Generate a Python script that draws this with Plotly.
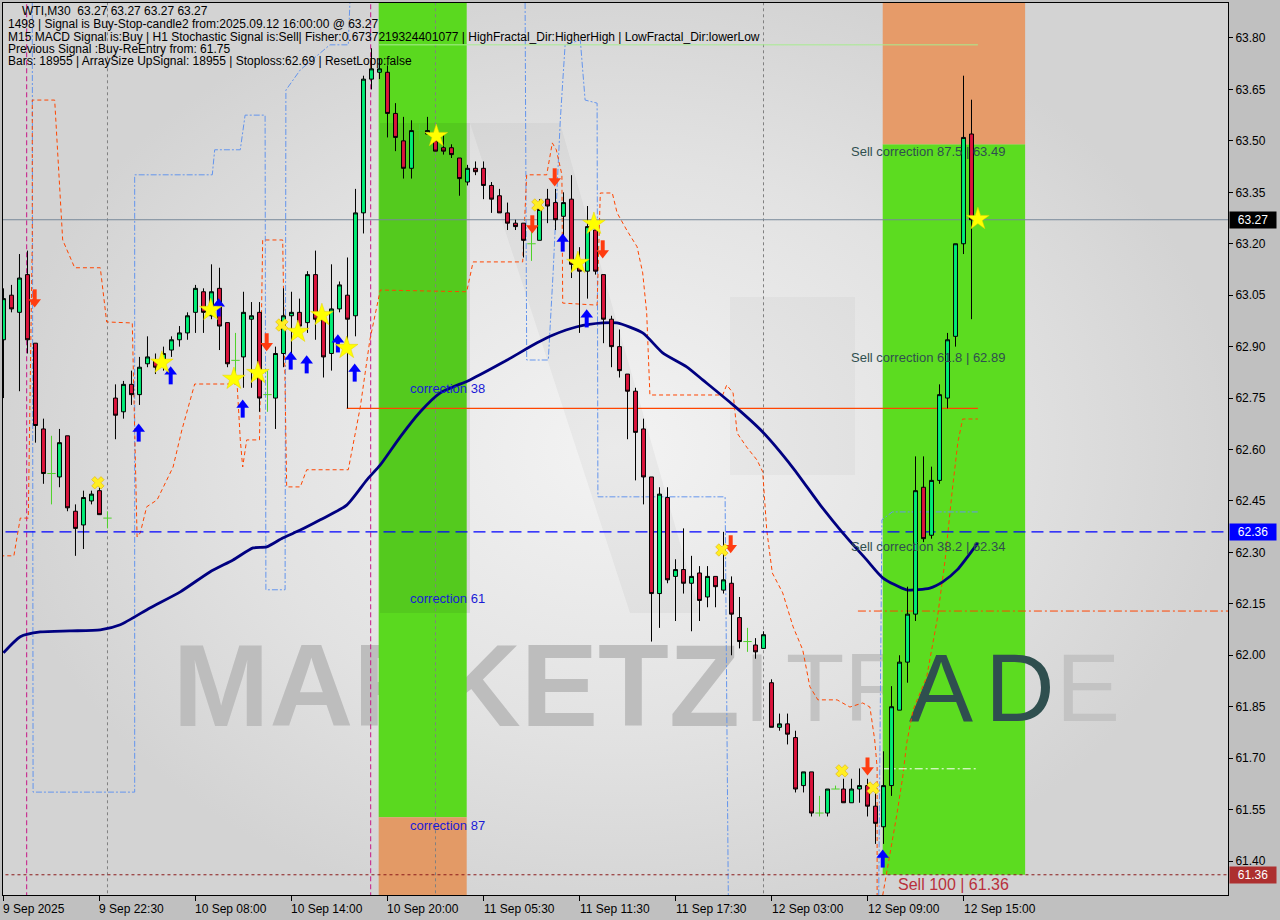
import plotly.graph_objects as go

# ---------------- data ----------------
opens = [62.92, 63.05, 63.00, 63.11, 62.91, 62.66, 62.53, 62.52, 62.64, 62.42,
         62.38, 62.45, 62.48, 62.40, 62.75, 62.71, 62.79, 62.76, 62.85, 62.86,
         62.86, 62.89, 62.92, 62.94, 63.00, 63.06, 62.99, 63.07, 62.97, 62.86,
         62.87, 62.98, 63.00, 62.76, 62.75, 62.88, 62.99, 63.00, 62.97, 63.11,
         63.00, 62.88, 63.01, 63.05, 62.99, 63.29, 63.68, 63.70, 63.70, 63.58,
         63.50, 63.42, 63.53, 63.52, 63.50, 63.48, 63.48, 63.45, 63.38, 63.42,
         63.42, 63.37, 63.34, 63.29, 63.26, 63.26, 63.20, 63.21, 63.33, 63.32,
         63.28, 63.33, 63.13, 63.12, 63.24, 63.11, 62.98, 62.90, 62.82, 62.77,
         62.66, 62.52, 62.18, 62.46, 62.23, 62.25, 62.21, 62.24, 62.17, 62.23,
         62.19, 62.21, 62.11, 62.04, 62.03, 62.02, 61.92, 61.79, 61.80, 61.76,
         61.62, 61.66, 61.54, 61.54, 61.61, 61.61, 61.57, 61.61, 61.62, 61.56,
         61.50, 61.62, 61.84, 61.98, 62.12, 62.49, 62.35, 62.51, 62.75, 62.93,
         63.20, 63.52]
highs = [63.07, 63.08, 63.17, 63.18, 62.91, 62.69, 62.64, 62.66, 62.64, 62.44,
         62.48, 62.48, 62.49, 62.42, 62.79, 62.80, 62.83, 62.87, 62.93, 62.88,
         62.90, 62.93, 62.96, 63.00, 63.08, 63.07, 63.14, 63.13, 62.97, 62.94,
         63.06, 63.03, 63.03, 62.83, 62.90, 63.07, 63.06, 63.04, 63.12, 63.18,
         63.00, 63.14, 63.09, 63.16, 63.36, 63.69, 63.77, 63.74, 63.72, 63.61,
         63.57, 63.56, 63.55, 63.57, 63.53, 63.52, 63.49, 63.45, 63.43, 63.44,
         63.44, 63.38, 63.36, 63.32, 63.27, 63.26, 63.24, 63.33, 63.36, 63.36,
         63.35, 63.40, 63.19, 63.31, 63.25, 63.11, 62.99, 62.95, 62.82, 62.78,
         62.69, 62.52, 62.49, 62.49, 62.28, 62.37, 62.29, 62.26, 62.26, 62.23,
         62.36, 62.23, 62.17, 62.08, 62.05, 62.07, 61.93, 61.83, 61.83, 61.78,
         61.66, 61.66, 61.59, 61.61, 61.62, 61.64, 61.64, 61.67, 61.64, 61.60,
         61.72, 61.91, 62.00, 62.20, 62.58, 62.58, 62.55, 62.79, 62.94, 63.20,
         63.69, 63.62]
lows = [62.75, 63.00, 62.77, 62.88, 62.62, 62.50, 62.44, 62.49, 62.42, 62.29,
        62.31, 62.44, 62.41, 62.37, 62.63, 62.69, 62.73, 62.73, 62.84, 62.82,
        62.83, 62.87, 62.90, 62.92, 62.94, 62.94, 62.98, 62.89, 62.84, 62.79,
        62.78, 62.78, 62.71, 62.71, 62.66, 62.84, 62.84, 62.94, 62.94, 62.92,
        62.81, 62.83, 63.00, 62.72, 62.93, 63.23, 63.65, 63.68, 63.51, 63.47,
        63.39, 63.39, 63.50, 63.52, 63.47, 63.46, 63.45, 63.34, 63.37, 63.40,
        63.33, 63.29, 63.29, 63.24, 63.24, 63.16, 63.15, 63.21, 63.26, 63.24,
        63.19, 63.10, 62.94, 63.04, 63.11, 62.91, 62.84, 62.81, 62.63, 62.51,
        62.44, 62.04, 62.08, 62.21, 62.10, 62.18, 62.07, 62.10, 62.14, 62.14,
        62.18, 62.00, 62.02, 62.01, 61.99, 62.02, 61.79, 61.78, 61.74, 61.60,
        61.60, 61.53, 61.53, 61.53, 61.61, 61.57, 61.57, 61.57, 61.53, 61.45,
        61.45, 61.59, 61.84, 61.92, 62.10, 62.33, 62.34, 62.50, 62.72, 62.90,
        63.17, 62.98]
closes = [63.04, 63.01, 63.10, 62.92, 62.67, 62.53, 62.53, 62.62, 62.43, 62.37,
          62.46, 62.47, 62.41, 62.40, 62.70, 62.79, 62.76, 62.84, 62.87, 62.84,
          62.88, 62.92, 62.94, 62.99, 63.07, 63.00, 63.06, 62.96, 62.85, 62.86,
          63.00, 62.99, 62.75, 62.76, 62.88, 62.99, 63.00, 62.96, 63.11, 62.98,
          62.87, 63.01, 63.08, 62.98, 63.29, 63.68, 63.71, 63.71, 63.58, 63.51,
          63.42, 63.53, 63.53, 63.53, 63.47, 63.47, 63.46, 63.39, 63.42, 63.41,
          63.37, 63.33, 63.29, 63.26, 63.25, 63.21, 63.20, 63.30, 63.31, 63.27,
          63.32, 63.14, 63.12, 63.25, 63.12, 62.98, 62.90, 62.83, 62.77, 62.65,
          62.52, 62.18, 62.47, 62.22, 62.25, 62.21, 62.23, 62.16, 62.23, 62.20,
          62.22, 62.12, 62.04, 62.04, 62.01, 62.06, 61.79, 61.80, 61.77, 61.61,
          61.66, 61.54, 61.54, 61.61, 61.61, 61.57, 61.61, 61.62, 61.56, 61.51,
          61.62, 61.85, 61.98, 62.12, 62.48, 62.34, 62.51, 62.76, 62.92, 63.20,
          63.51, 63.27]

time_labels = ["9 Sep 2025", "9 Sep 22:30", "10 Sep 08:00", "10 Sep 14:00", "10 Sep 20:00",
               "11 Sep 05:30", "11 Sep 11:30", "11 Sep 17:30", "12 Sep 03:00",
               "12 Sep 09:00", "12 Sep 15:00"]
time_label_bars = [0, 12, 24, 36, 48, 60, 72, 84, 96, 108, 120]
price_ticks = [61.40, 61.55, 61.70, 61.85, 62.00, 62.15, 62.30, 62.45, 62.60,
               62.75, 62.90, 63.05, 63.20, 63.35, 63.50, 63.65, 63.80]

# moving average (knots): bar position, price
ma_x = [0, 2.1, 4.6, 8.3, 12.1, 14.6, 18.3, 22.1, 25.8, 28.7, 31.2, 32.9, 34.9, 37.1,
        39.6, 42.9, 45.4, 47.1, 49.6, 52.1, 54.6, 58.3, 62.5, 66.7, 68.7, 71.7, 74.9,
        76.7, 79.9, 82.4, 85.4, 87.4, 91.2, 94.9, 98.7, 102.1, 104.9, 107.9, 109.9,
        112.9, 115.8, 117.4, 119.2, 121.8]
ma_y = [62.007, 62.054, 62.068, 62.071, 62.074, 62.089, 62.138, 62.185, 62.243, 62.278,
        62.313, 62.316, 62.342, 62.365, 62.395, 62.438, 62.511, 62.555, 62.637, 62.710,
        62.765, 62.803, 62.855, 62.911, 62.934, 62.958, 62.969, 62.969, 62.940, 62.882,
        62.841, 62.803, 62.730, 62.651, 62.546, 62.438, 62.357, 62.278, 62.226, 62.191,
        62.196, 62.214, 62.249, 62.328]

# orange step envelope (dashed)
env_o_x = [-0.4, 1.3, 2.1, 3.1, 3.6, 3.6, 6.4, 7.4, 8.9, 12.1, 12.9, 16.1, 16.7, 17.1, 17.9,
           19.2, 21.2, 22.3, 23.9, 29.2, 29.6, 29.9, 30.4, 32.0, 32.4, 34.9, 35.4, 37.1, 37.9,
           43.1, 44.6, 45.8, 47.1, 57.9, 58.7, 64.9, 65.4, 67.9, 68.6, 69.1, 69.8, 69.9,
           74.2, 74.6, 76.1, 76.7, 77.9, 79.2, 79.9, 80.4, 80.8, 89.9, 90.4, 91.2, 91.7,
           92.9, 94.2, 94.9, 95.4, 96.1, 97.4, 98.7, 99.9, 100.8, 101.8, 104.2, 105.8, 107.4,
           108.3, 108.9, 109.2, 109.2, None,
           109.9, 111.1, 111.7, 112.4, 112.9, 113.7, 115.4, 116.7, 117.7, 118.6, 119.3,
           119.9, 121.8]
env_o_y = [62.290, 62.290, 62.400, 62.400, 63.211, 63.619, 63.619, 63.211, 63.130, 63.130,
           62.972, 62.969, 62.345, 62.357, 62.433, 62.453, 62.549, 62.657, 62.791, 62.791,
           62.628, 62.549, 62.628, 62.628, 63.211, 63.211, 62.491, 62.491, 62.541, 62.541,
           62.724, 62.920, 63.065, 63.060, 63.147, 63.147, 63.401, 63.401, 63.494, 63.474,
           63.401, 63.027, 63.021, 63.348, 63.348, 63.290, 63.240, 63.191, 63.115, 62.998,
           62.759, 62.759, 62.788, 62.765, 62.648, 62.607, 62.569, 62.535, 62.366, 62.240,
           62.182, 62.083, 62.016, 61.908, 61.870, 61.870, 61.849, 61.861, 61.849, 61.753,
           61.674, 61.300, None,
           61.300, 61.453, 61.540, 61.645, 61.744, 61.841, 61.937, 62.103, 62.278, 62.482,
           62.622, 62.689, 62.689]

# blue step channel (dash-dot)
env_b_x = [3.6, 3.7, 15.8, 16.4, 16.4, 26.1, 26.4, 29.6, 30.2, 32.7, 32.8, 35.2, 35.3, 37.1,
           40.8, 43.1, 43.3, None,
           65.2, 65.4, 68.1, 68.7, 69.6, 70.2, 72.1, 72.7, 74.2, 74.3, 90.2, 90.6, None,
           109.4, 109.8, 111.1, 121.8]
env_b_y = [63.902, 61.601, 61.601, 61.601, 63.401, 63.401, 63.474, 63.474, 63.575, 63.575,
           62.191, 62.191, 63.648, 63.707, 63.780, 63.780, 63.902, None,
           63.902, 62.861, 62.861, 63.115, 63.561, 63.780, 63.794, 63.619, 63.610, 62.462,
           62.462, 61.300, None,
           61.300, 62.395, 62.418, 62.418]

# signal markers
star_x = [19.8, 25.9, 28.8, 31.8, 36.8, 39.8, 42.9, 54.1, 71.8, 73.8, 121.8]
star_y = [62.853, 63.007, 62.806, 62.823, 62.943, 62.992, 62.896, 63.514, 63.144, 63.258, 63.272]
cross_x = [11.8, 34.8, 66.8, 89.8, 104.8, 108.7]
cross_y = [62.503, 62.963, 63.313, 62.307, 61.663, 61.613]
up_x = [16.9, 20.9, 26.9, 29.9, 35.9, 37.9, 41.8, 43.9, 69.9, 72.9, 109.9]
up_y = [62.651, 62.818, 63.016, 62.721, 62.861, 62.850, 62.911, 62.826, 63.205, 62.984, 61.409]
down_x = [3.9, 32.9, 66.1, 68.9, 74.9, 90.9, 108.0]
down_y = [63.039, 62.911, 63.255, 63.392, 63.182, 62.322, 61.674]

# levels
last_price = 63.27
buy_level = 62.36
sell100_level = 61.36
stop_level = 62.72
stop_from_bar, stop_to_bar = 42.9, 121.8
dashdot_level = 62.129
prev_level = 63.78
white_level = 61.669

zone1 = dict(x0=46.9, x1=57.9, green_lo=61.528, green_hi=63.95, orange_lo=61.25)
zone2 = dict(x0=109.9, x1=127.7, green_lo=61.36, green_hi=63.49, orange_hi=63.95)

day_sep_bars = [13, 54, 95]
magenta_bars = [2.9, 45.9]

info_lines = [
    "WTI,M30  63.27 63.27 63.27 63.27",
    "1498 | Signal is Buy-Stop-candle2 from:2025.09.12 16:00:00 @ 63.27",
    "M15 MACD Signal is:Buy | H1 Stochastic Signal is:Sell| Fisher:0.6737219324401077 | HighFractal_Dir:HigherHigh | LowFractal_Dir:lowerLow",
    "Previous Signal :Buy-ReEntry from: 61.75",
    "Bars: 18955 | ArraySize UpSignal: 18955 | Stoploss:62.69 | ResetLopp:false",
]

# ---------------- layout geometry ----------------
W, H = 1280, 920
ML, MR, MT, MB = 3, 52, 3, 25
X_RANGE = [-0.06, 153.06]
Y_RANGE = [61.301, 63.902]
FONT = "Liberation Sans"
PX = (Y_RANGE[1] - Y_RANGE[0]) / (H - MT - MB)   # price units per pixel


def dx_(px):   # decorative pixel x -> axis x
    return X_RANGE[0] + (px - ML) * (X_RANGE[1] - X_RANGE[0]) / (W - ML - MR)


def dy_(py):   # decorative pixel y -> axis y
    return Y_RANGE[1] - (py - MT) * PX


fig = go.Figure()

# background radial gradient (base layer)
fig.add_trace(go.Scatter(
    x=[X_RANGE[0] - 1, X_RANGE[1] + 1, X_RANGE[1] + 1, X_RANGE[0] - 1, X_RANGE[0] - 1],
    y=[Y_RANGE[0] - 0.1, Y_RANGE[0] - 0.1, Y_RANGE[1] + 0.1, Y_RANGE[1] + 0.1, Y_RANGE[0] - 0.1],
    fill="toself", mode="none", hoverinfo="skip", showlegend=False,
    fillgradient=dict(type="radial", colorscale=[[0, "#f3f3f3"], [0.6, "#e2e2e2"], [1, "#d3d3d3"]]),
))

# watermark (gray parts, behind zones)
wm_y = 61.878
fig.add_trace(go.Scatter(x=[56.6], y=[wm_y], mode="text", text=["MARKETZ"], hoverinfo="skip",
                         showlegend=False,
                         textfont=dict(family=FONT, size=116, color="#bdbdbd", weight="bold")))
fig.add_trace(go.Scatter(x=[94.2, dx_(815), dx_(879), dx_(1088)], y=[wm_y] * 4, mode="text",
                         text=["I", "T", "R", "E"], hoverinfo="skip", showlegend=False,
                         textfont=dict(family=FONT, size=96, color="#c3c3c3")))


def rect(x0, x1, y0, y1, color):
    fig.add_trace(go.Scatter(x=[x0, x1, x1, x0, x0], y=[y0, y0, y1, y1, y0], fill="toself",
                             mode="none", fillcolor=color, hoverinfo="skip", showlegend=False))


rect(zone1["x0"], zone1["x1"], zone1["green_lo"], zone1["green_hi"], "#5ad91f")
rect(zone1["x0"], zone1["x1"], zone1["orange_lo"], zone1["green_lo"], "#e39a66")
rect(zone2["x0"], zone2["x1"], zone2["green_lo"], zone2["green_hi"], "#5cdc20")
rect(zone2["x0"], zone2["x1"], zone2["green_hi"], zone2["orange_hi"], "#e69b69")

# faint logo shapes of the watermark
logo_polys = [
    ([(380, 123), (470, 123), (470, 613), (380, 613)], "rgba(30,30,30,0.08)"),
    ([(470, 123), (560, 123), (700, 613), (630, 613)], "rgba(30,30,30,0.04)"),
    ([(730, 297), (855, 297), (855, 475), (730, 475)], "rgba(30,30,30,0.03)"),
]
for pts, col in logo_polys:
    xs = [dx_(p[0]) for p in pts] + [dx_(pts[0][0])]
    ys = [dy_(p[1]) for p in pts] + [dy_(pts[0][1])]
    fig.add_trace(go.Scatter(x=xs, y=ys, fill="toself", mode="none", fillcolor=col,
                             hoverinfo="skip", showlegend=False))

# watermark dark letters inside zone 2
fig.add_trace(go.Scatter(x=[dx_(941), dx_(1020)], y=[wm_y] * 2, mode="text", text=["A", "D"],
                         hoverinfo="skip", showlegend=False,
                         textfont=dict(family=FONT, size=96, color="#2f4f4f")))


def vline(b, color, dash):
    fig.add_trace(go.Scatter(x=[b, b], y=[Y_RANGE[0] - 0.1, Y_RANGE[1] + 0.1], mode="lines",
                             hoverinfo="skip", showlegend=False,
                             line=dict(color=color, width=1, dash=dash)))


def hline(y, x0, x1, color, dash, width=1):
    fig.add_trace(go.Scatter(x=[x0, x1], y=[y, y], mode="lines", hoverinfo="skip",
                             showlegend=False, line=dict(color=color, width=width, dash=dash)))


for b in day_sep_bars:
    vline(b, "#808080", "3px,3px")
for b in magenta_bars:
    vline(b, "#c71585", "5px,3px")

# indicator lines
fig.add_trace(go.Scatter(x=env_b_x, y=env_b_y, mode="lines", hoverinfo="skip", showlegend=False,
                         line=dict(color="#6495ed", width=1, dash="6px,2px,2px,2px")))
fig.add_trace(go.Scatter(x=env_o_x, y=env_o_y, mode="lines", hoverinfo="skip", showlegend=False,
                         line=dict(color="#ff4500", width=1, dash="4px,3px")))
hline(prev_level, 46.9, 121.8, "#a8ec90", "solid")
hline(stop_level, stop_from_bar, stop_to_bar, "#ff4500", "solid", 1.3)
hline(dashdot_level, 106.8, 160, "#ff4500", "8px,3px,2px,3px")
hline(white_level, 109.9, 121.7, "#ffffff", "8px,3px,2px,3px")
hline(last_price, -2, 160, "#778899", "solid")
hline(buy_level, -2, 160, "#0000ff", "12px,6px", 1.2)
hline(sell100_level, -2, 160, "#8b1a1a", "3px,3px")

# moving average
fig.add_trace(go.Scatter(x=ma_x, y=ma_y, mode="lines", hoverinfo="skip", showlegend=False,
                         line=dict(color="#000080", width=2.8, shape="spline", smoothing=0.6)))

# ---------------- overlay layer: candles and signals ----------------
bars = list(range(len(opens)))
cx = [b for b in bars if opens[b] != closes[b]]
fig.add_trace(go.Candlestick(
    x=cx, open=[opens[b] for b in cx], high=[highs[b] for b in cx],
    low=[lows[b] for b in cx], close=[closes[b] for b in cx],
    increasing=dict(line=dict(color="#000000", width=1), fillcolor="#00ee76"),
    decreasing=dict(line=dict(color="#000000", width=1), fillcolor="#dc143c"),
    whiskerwidth=0, hoverinfo="skip", showlegend=False, xaxis="x2", yaxis="y2"))
dojis = [b for b in bars if opens[b] == closes[b]]
wick_x, wick_y = [], []
for b in dojis:
    wick_x += [b, b, None]
    wick_y += [lows[b], highs[b], None]
fig.add_trace(go.Scatter(x=wick_x, y=wick_y, mode="lines", line=dict(color="#4fd12a", width=1),
                         hoverinfo="skip", showlegend=False, xaxis="x2", yaxis="y2"))
fig.add_trace(go.Scatter(x=dojis, y=[opens[b] for b in dojis], mode="markers", hoverinfo="skip",
                         showlegend=False, xaxis="x2", yaxis="y2",
                         marker=dict(symbol="line-ew", size=6, line=dict(color="#4fd12a", width=1))))


# arrows: stem + head
def arrows(xs, ys, up, color):
    sgn = 1 if up else -1
    fig.add_trace(go.Scatter(x=xs, y=[v - sgn * 4 * PX for v in ys], mode="markers",
                             hoverinfo="skip", showlegend=False, xaxis="x2", yaxis="y2",
                             marker=dict(symbol="line-ns", size=8, line=dict(color=color, width=4))))
    fig.add_trace(go.Scatter(x=xs, y=[v + sgn * 3 * PX for v in ys], mode="markers",
                             hoverinfo="skip", showlegend=False, xaxis="x2", yaxis="y2",
                             marker=dict(symbol="triangle-up" if up else "triangle-down", size=11,
                                         color=color, line=dict(width=0))))


arrows(up_x, up_y, True, "#0000ff")
arrows(down_x, down_y, False, "#ff3c10")
fig.add_trace(go.Scatter(x=star_x, y=star_y, mode="markers", hoverinfo="skip", showlegend=False,
                         xaxis="x2", yaxis="y2",
                         marker=dict(symbol="star", size=17, color="#ffff00",
                                     line=dict(color="#e6d200", width=0.5))))
fig.add_trace(go.Scatter(x=cross_x, y=cross_y, mode="markers", hoverinfo="skip", showlegend=False,
                         xaxis="x2", yaxis="y2",
                         marker=dict(symbol="x", size=11, color="#ffee22",
                                     line=dict(color="#e0b000", width=0.6))))

# zone labels
for txt, y in [("correction 38", 62.777), ("correction 61", 62.167), ("correction 87", 61.505)]:
    fig.add_annotation(x=50.56, y=y, text=txt, showarrow=False, xanchor="left",
                       font=dict(family=FONT, size=13, color="#1a1ad6"))
for txt, y in [("Sell correction 87.5 | 63.49", 63.468), ("Sell correction 61.8 | 62.89", 62.867),
               ("Sell correction 38.2 | 62.34", 62.316)]:
    fig.add_annotation(x=105.7, y=y, text=txt, showarrow=False, xanchor="left",
                       font=dict(family=FONT, size=13, color="#2f4f4f"))
fig.add_annotation(x=111.6, y=61.333, text="Sell 100 | 61.36", showarrow=False, xanchor="left",
                   font=dict(family=FONT, size=16, color="#b8303c"))

# info text top-left
line_px = [11, 24, 37, 49, 61]
for i, (txt, py) in enumerate(zip(info_lines, line_px)):
    xpx = 20 if i == 0 else 6
    fig.add_annotation(x=(xpx - ML) / (W - ML - MR), y=1 - (py - MT) / (H - MT - MB),
                       xref="paper", yref="paper", text=txt, showarrow=False,
                       xanchor="left", yanchor="middle",
                       font=dict(family=FONT, size=12, color="#000000"))

# time labels
for b, t in zip(time_label_bars, time_labels):
    fig.add_annotation(x=b, y=0, xref="x", yref="paper", text=t, showarrow=False,
                       xanchor="left", yanchor="top", yshift=-5, xshift=-2,
                       font=dict(family=FONT, size=12, color="#000000"))

# price badges
for val, col in [(last_price, "#000000"), (buy_level, "#0000ff"), (sell100_level, "#ad2f2f")]:
    fig.add_annotation(x=1, y=val, xref="paper", yref="y", text=f"{val:.2f}", showarrow=False,
                       xanchor="left", xshift=1, bgcolor=col, width=44, height=14,
                       font=dict(family=FONT, size=12, color="#ffffff"))

fig.update_layout(
    width=W, height=H, margin=dict(l=ML, r=MR, t=MT, b=MB),
    paper_bgcolor="#c0c0c0", plot_bgcolor="#d9d9d9",
    showlegend=False,
    xaxis=dict(range=X_RANGE, showgrid=False, zeroline=False, rangeslider=dict(visible=False),
               tickmode="array", tickvals=time_label_bars, ticktext=[""] * len(time_label_bars),
               ticks="outside", ticklen=5, tickcolor="#000000",
               showline=True, linecolor="#000000", linewidth=1, mirror=True),
    yaxis=dict(range=Y_RANGE, side="right", showgrid=False, zeroline=False,
               tickmode="array", tickvals=price_ticks, ticktext=[f"{v:.2f}" for v in price_ticks],
               ticks="outside", ticklen=4, tickcolor="#000000",
               tickfont=dict(family=FONT, size=12, color="#000000"),
               showline=True, linecolor="#000000", linewidth=1, mirror=True),
    xaxis2=dict(range=X_RANGE, overlaying="x", visible=False, rangeslider=dict(visible=False),
                showgrid=False, zeroline=False),
    yaxis2=dict(range=Y_RANGE, overlaying="y", visible=False, side="right",
                showgrid=False, zeroline=False),
)

fig.write_html("out.html", config={"displayModeBar": False},
               post_script="document.body.style.margin='0px';")
